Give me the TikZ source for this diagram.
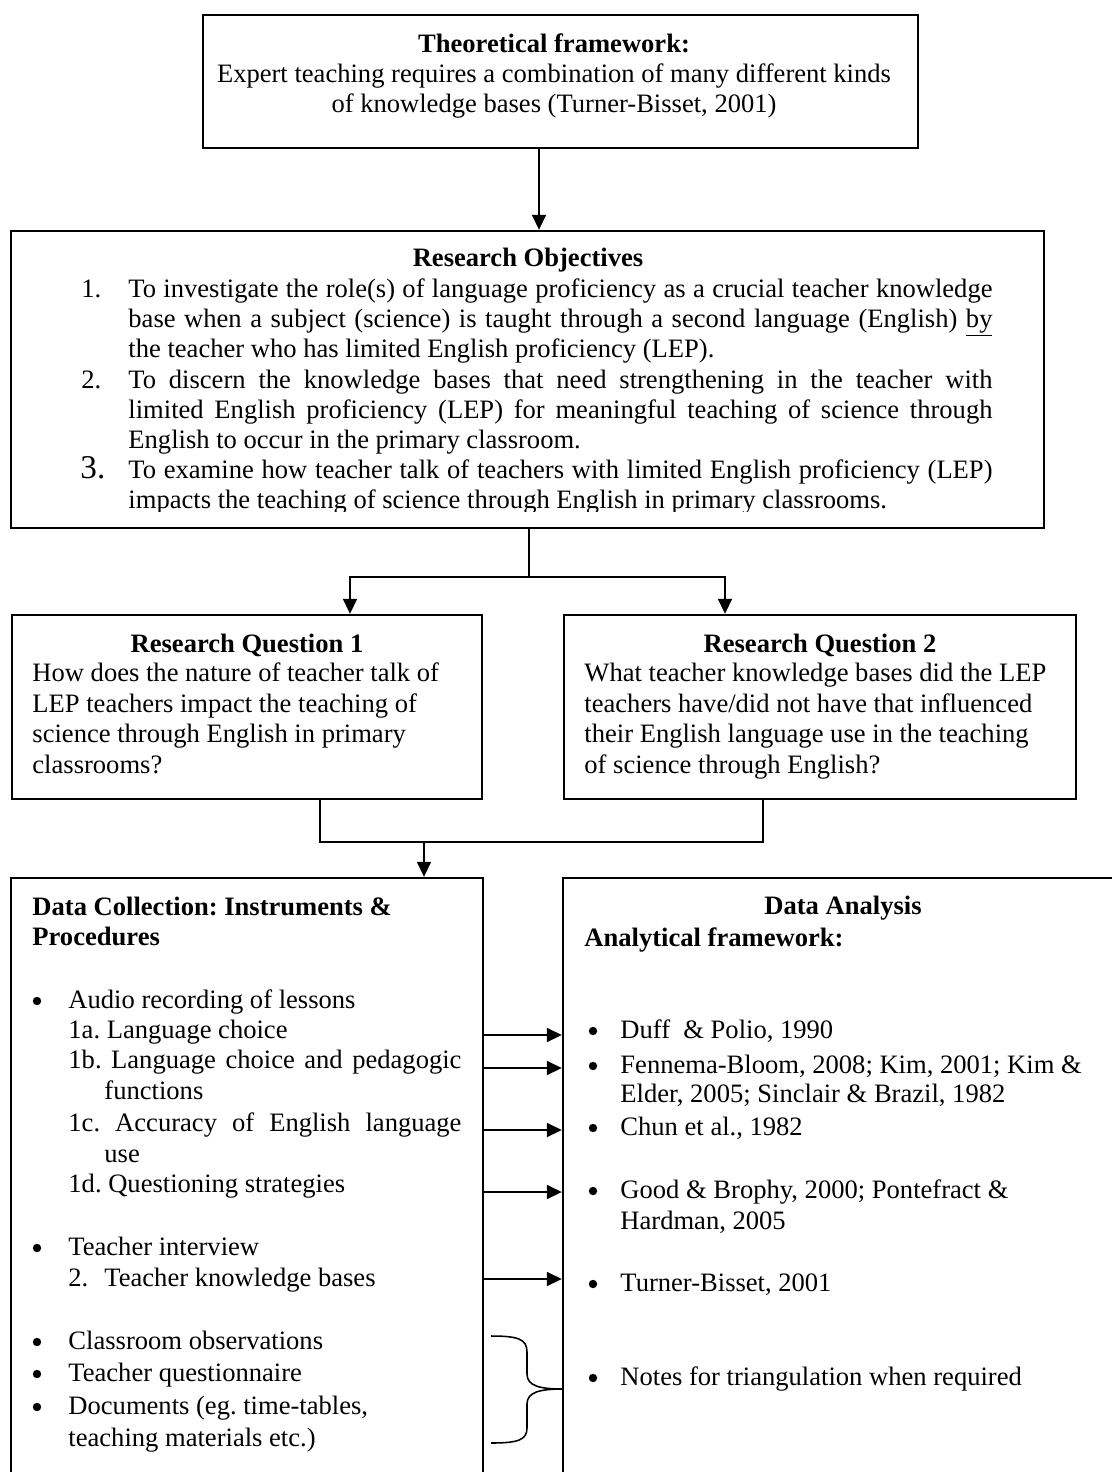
\documentclass[tikz,border=0pt]{standalone}
\usepackage{fontspec}
\setmainfont{Liberation Serif}
\usetikzlibrary{arrows.meta,fit}
\newcommand\jline[2]{\makebox[#1][s]{#2}}
\frenchspacing
\begin{document}
\begin{tikzpicture}[x=0.4516pt,y=-0.4516pt,
  frame/.style={draw=black, line width=1pt, inner sep=0pt},
  conn/.style={line width=1.1pt},
  arr/.style={conn, -{Triangle[length=6.8pt,width=6.2pt]}},
  txt/.style={anchor=base west, inner sep=0pt, font=\fontsize{12pt}{13.8pt}\selectfont},
  ctxt/.style={txt, anchor=base},
  bigtxt/.style={txt, font=\fontsize{15pt}{16pt}\selectfont},
  dot/.style={circle, fill=black, inner sep=0pt, minimum size=3.8pt},
  brace/.style={line width=0.7pt}]
\useasboundingbox (0,0) rectangle (1112,1472);
\clip (0,0) rectangle (1112,1472);

% ---------- boxes ----------
\node[frame, fit={(203,15) (918,148)}] (b1) {};
\node[frame, fit={(11,231) (1044,528)}] (obj) {};
\node[frame, fit={(12,615) (482,799)}] (rq1) {};
\node[frame, fit={(564,615) (1076,799)}] (rq2) {};
\node[frame, fit={(11,878) (483,1520)}] (dc) {};
\node[frame, fit={(563,878) (1123,1520)}] (da) {};

% ---------- theoretical framework ----------
\node[ctxt] (t1) at (554,52) {\textbf{Theoretical framework:}};
\node[ctxt] (t2) at (554,82) {Expert teaching requires a combination of many different kinds};
\node[ctxt] (t3) at (554,112) {of knowledge bases (Turner-Bisset, 2001)};

% ---------- research objectives ----------
\node[ctxt] (ot) at (528,266) {\textbf{Research Objectives}};
\node[txt] (on1) at (81,297) {1.};
\node[txt] (on2) at (81,388) {2.};
\node[bigtxt] (on3) at (80,478) {3.};
\node[txt] (ol1) at (128,297) {\jline{390.2pt}{To investigate the role(s) of language proficiency as a crucial teacher knowledge}};
\node[txt] (ol2) at (128,327) {\jline{390.2pt}{base when a subject (science) is taught through a second language (English) \underline{by}}};
\node[txt] (ol3) at (128,357) {the teacher who has limited English proficiency (LEP).};
\node[txt] (ol4) at (128,388) {\jline{390.2pt}{To discern the knowledge bases that need strengthening in the teacher with}};
\node[txt] (ol5) at (128,418) {\jline{390.2pt}{limited English proficiency (LEP) for meaningful teaching of science through}};
\node[txt] (ol6) at (128,448) {English to occur in the primary classroom.};
\node[txt] (ol7) at (128,478) {\jline{390.2pt}{To examine how teacher talk of teachers with limited English proficiency (LEP)}};
\begin{scope}
\clip (11,231) rectangle (1044,511);
\node[txt] (ol8) at (128,508) {impacts the teaching of science through English in primary classrooms.};
\end{scope}

% ---------- research questions ----------
\node[ctxt] (q1t) at (247,652) {\textbf{Research Question 1}};
\node[txt] (q1a) at (32,681) {How does the nature of teacher talk of};
\node[txt] (q1b) at (32,712) {LEP teachers impact the teaching of};
\node[txt] (q1c) at (32,742) {science through English in primary};
\node[txt] (q1d) at (32,773) {classrooms?};

\node[ctxt] (q2t) at (820,652) {\textbf{Research Question 2}};
\node[txt] (q2a) at (584,681) {What teacher knowledge bases did the LEP};
\node[txt] (q2b) at (584,712) {teachers have/did not have that influenced};
\node[txt] (q2c) at (584,742) {their English language use in the teaching};
\node[txt] (q2d) at (584,773) {of science through English?};

% ---------- data collection ----------
\node[txt] (dct1) at (32,915) {\textbf{Data Collection: Instruments \&}};
\node[txt] (dct2) at (32,945) {\textbf{Procedures}};
\node[dot] (db1) at (37,1001) {};
\node[txt] (dc1) at (68,1008) {Audio recording of lessons};
\node[txt] (dc2) at (68,1038) {1a. Language choice};
\node[txt] (dc3) at (68,1068) {\jline{177.5pt}{1b. Language choice and pedagogic}};
\node[txt] (dc4) at (104,1099) {functions};
\node[txt] (dc5) at (68,1131) {\jline{177.5pt}{1c. Accuracy of English language}};
\node[txt] (dc6) at (104,1162) {use};
\node[txt] (dc7) at (68,1192) {1d. Questioning strategies};
\node[dot] (db2) at (37,1248) {};
\node[txt] (dc8) at (68,1255) {Teacher interview};
\node[txt] (dc9n) at (68,1286) {2.};
\node[txt] (dc9) at (104,1286) {Teacher knowledge bases};
\node[dot] (db3) at (37,1342) {};
\node[txt] (dc10) at (68,1349) {Classroom observations};
\node[dot] (db4) at (37,1374) {};
\node[txt] (dc11) at (68,1381) {Teacher questionnaire};
\node[dot] (db5) at (37,1407) {};
\node[txt] (dc12) at (68,1414) {Documents (eg. time-tables,};
\node[txt] (dc13) at (68,1446) {teaching materials etc.)};

% ---------- data analysis ----------
\node[ctxt] (dat1) at (843,914) {\textbf{Data Analysis}};
\node[txt] (dat2) at (584,946) {\textbf{Analytical framework:}};
\node[dot] (ab1) at (593,1031) {};
\node[txt] (da1) at (620,1038) {Duff\ \ \& Polio, 1990};
\node[dot] (ab2) at (593,1066) {};
\node[txt] (da2) at (620,1073) {Fennema-Bloom, 2008; Kim, 2001; Kim \&};
\node[txt] (da3) at (620,1102) {Elder, 2005; Sinclair \& Brazil, 1982};
\node[dot] (ab3) at (593,1128) {};
\node[txt] (da4) at (620,1135) {Chun et al., 1982};
\node[dot] (ab4) at (593,1191) {};
\node[txt] (da5) at (620,1198) {Good \& Brophy, 2000; Pontefract \&};
\node[txt] (da6) at (620,1229) {Hardman, 2005};
\node[dot] (ab5) at (593,1284) {};
\node[txt] (da7) at (620,1291) {Turner-Bisset, 2001};
\node[dot] (ab6) at (593,1378) {};
\node[txt] (da8) at (620,1385) {Notes for triangulation when required};

% ---------- connectors ----------
\coordinate (a1) at (539,0);
\draw[arr] (b1.south -| a1) -- (obj.north -| a1);

\coordinate (s1) at (529,577);
\coordinate (l1) at (350,577);
\coordinate (r1) at (725,577);
\draw[conn] (obj.south -| s1) -- (s1);
\draw[arr] (s1) -- (l1) -- (rq1.north -| l1);
\draw[arr] (s1) -- (r1) -- (rq2.north -| r1);

\coordinate (j1) at (320,842);
\coordinate (j2) at (763,842);
\coordinate (j3) at (424,842);
\draw[conn] (rq1.south -| j1) -- (j1) -- (j2) -- (rq2.south -| j2);
\draw[arr] (j3) -- (dc.north -| j3);

\coordinate (y1) at (0,1035);
\coordinate (y2) at (0,1068);
\coordinate (y3) at (0,1130);
\coordinate (y4) at (0,1192);
\coordinate (y5) at (0,1279);
\foreach \yy in {y1,y2,y3,y4,y5}
  \draw[arr] (dc.east |- \yy) -- (da.west |- \yy);

% ---------- brace ----------
\draw[brace] (491,1336) .. controls (518,1336) and (527,1339) .. (527,1352)
  -- (527,1374) .. controls (527,1386) and (540,1389) .. (563,1389)
  .. controls (540,1389) and (527,1392) .. (527,1404)
  -- (527,1428) .. controls (527,1440) and (518,1443) .. (491,1443);
\end{tikzpicture}
\end{document}
